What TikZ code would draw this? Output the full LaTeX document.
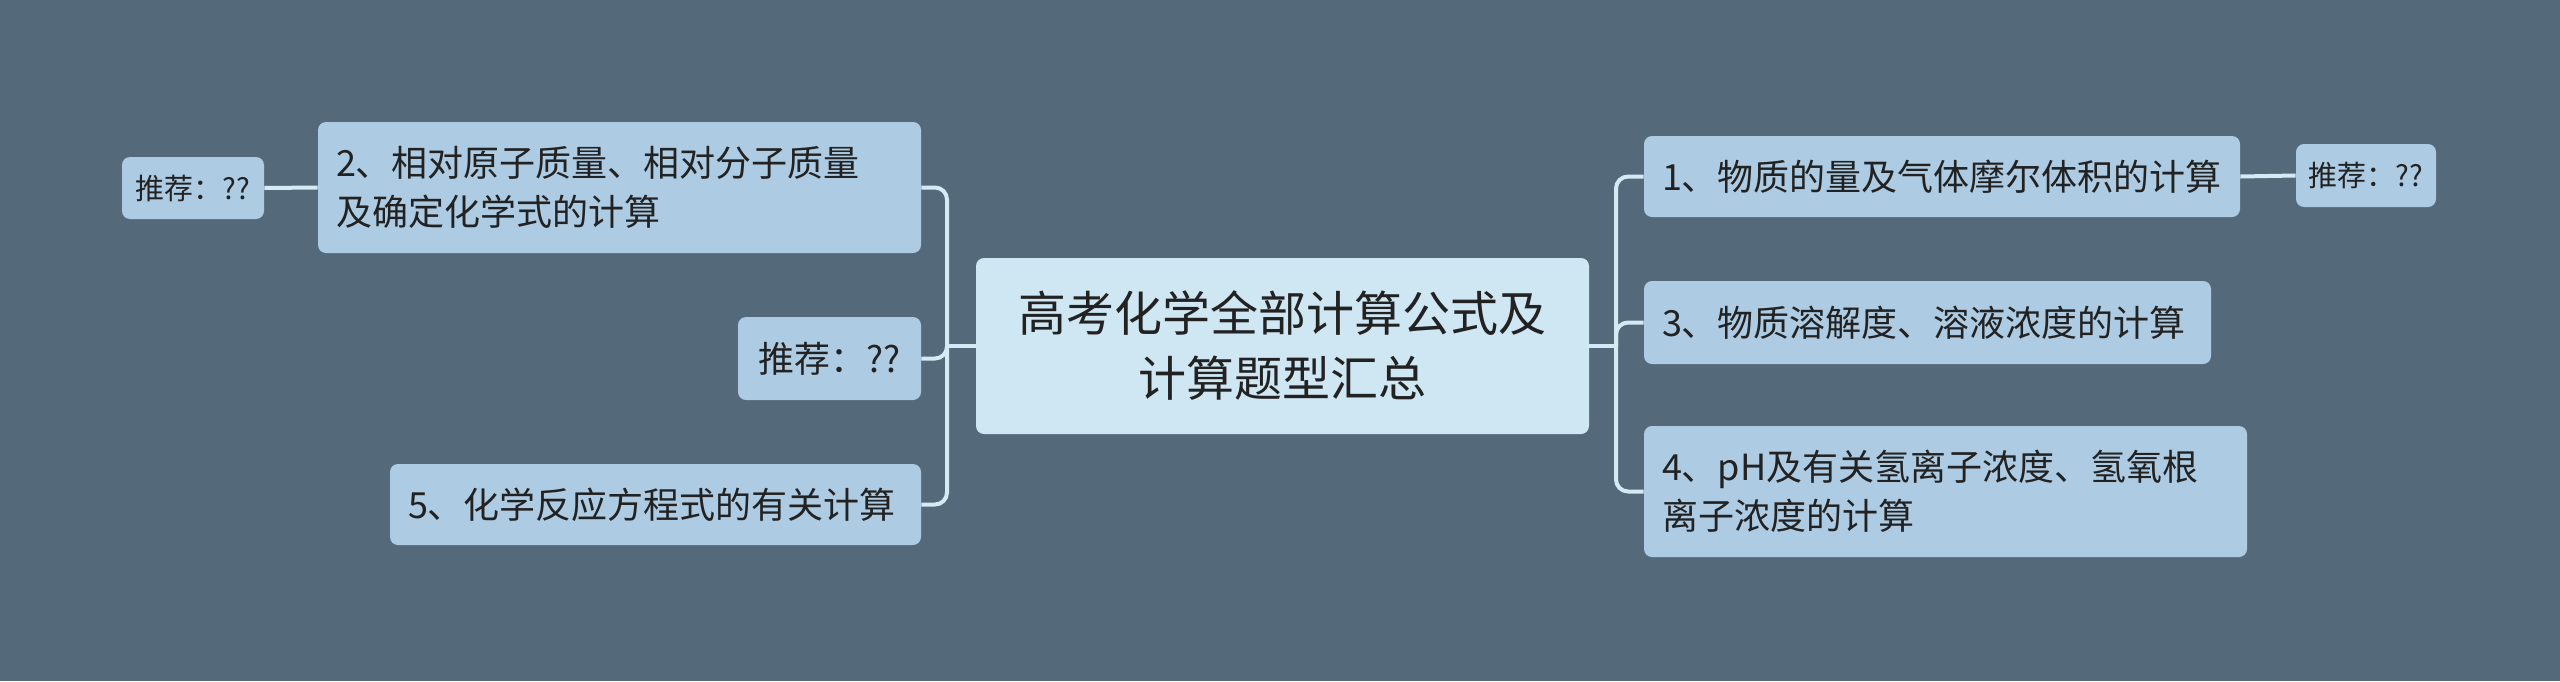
\documentclass[tikz,border=0pt]{standalone}
\usepackage{fontspec}
\setmainfont{Noto Sans CJK SC}
\definecolor{bgcol}{HTML}{546A7A}
\definecolor{rootfill}{HTML}{CFE6F3}
\definecolor{topicfill}{HTML}{ADCBE2}
\definecolor{linkcol}{HTML}{D4EAF5}
\definecolor{textcol}{HTML}{222222}
\begin{document}
\begin{tikzpicture}[
    x=0.5pt, y=-0.5pt,
    root/.style={fill=rootfill, rounded corners=4pt, inner xsep=9pt, align=center, text=textcol, font=\fontsize{24}{32.5}\selectfont},
    topic/.style={fill=topicfill, rounded corners=4pt, inner xsep=9pt, align=left, text=textcol, font=\fontsize{18}{24.5}\selectfont},
    tip/.style={fill=topicfill, rounded corners=4pt, inner sep=0pt, align=center, text=textcol, font=\fontsize{14.5}{18}\selectfont},
    link/.style={draw=linkcol, line width=2pt, rounded corners=6pt}
]
    % background and page size
    \fill[bgcol] (0,0) rectangle (2560,681);
    \useasboundingbox (0,0) rectangle (2560,681);

    % central topic
    \node[root, minimum width=306.5pt, minimum height=88pt, text width=288.5pt] (main) at (1282.5,346) {高考化学全部计算公式及\\计算题型汇总};

    % left branch
    \node[topic, minimum width=301.5pt, minimum height=65.5pt, text width=283.5pt] (n2) at (619.5,187.5) {2、相对原子质量、相对分子质量\\及确定化学式的计算};
    \node[topic, align=center, minimum width=91.5pt, minimum height=41.5pt, text width=73.5pt] (recmid) at (829.5,358.5) {推荐：??};
    \node[topic, minimum width=265.5pt, minimum height=40.5pt, text width=247.5pt] (n5) at (655.5,504.5) {5、化学反应方程式的有关计算};
    \node[tip, minimum width=71pt, minimum height=31pt] (recleft) at (193,188) {推荐：??};

    % right branch
    \node[topic, minimum width=298pt, minimum height=40.5pt, text width=280pt] (n1) at (1942,176.5) {1、物质的量及气体摩尔体积的计算};
    \node[topic, minimum width=283.5pt, minimum height=41.5pt, text width=265.5pt] (n3) at (1927.5,322.5) {3、物质溶解度、溶液浓度的计算};
    \node[topic, minimum width=301.5pt, minimum height=65.5pt, text width=283.5pt] (n4) at (1945.5,491.5) {4、pH及有关氢离子浓度、氢氧根\\离子浓度的计算};
    \node[tip, minimum width=70pt, minimum height=31.5pt] (recright) at (2366,175.5) {推荐：??};

    % trunk points
    \coordinate (tl) at (947,346);
    \coordinate (tr) at (1616,346);

    % connectors
    \draw[link] (main.west) -- (tl);
    \draw[link] (tl) |- (n2.east);
    \draw[link] (tl) |- (recmid.east);
    \draw[link] (tl) |- (n5.east);
    \draw[link] (n2.west) -- (recleft.east);
    \draw[link] (main.east) -- (tr);
    \draw[link] (tr) |- (n1.west);
    \draw[link] (tr) |- (n3.west);
    \draw[link] (tr) |- (n4.west);
    \draw[link] (n1.east) -- (recright.west);
\end{tikzpicture}
\end{document}
